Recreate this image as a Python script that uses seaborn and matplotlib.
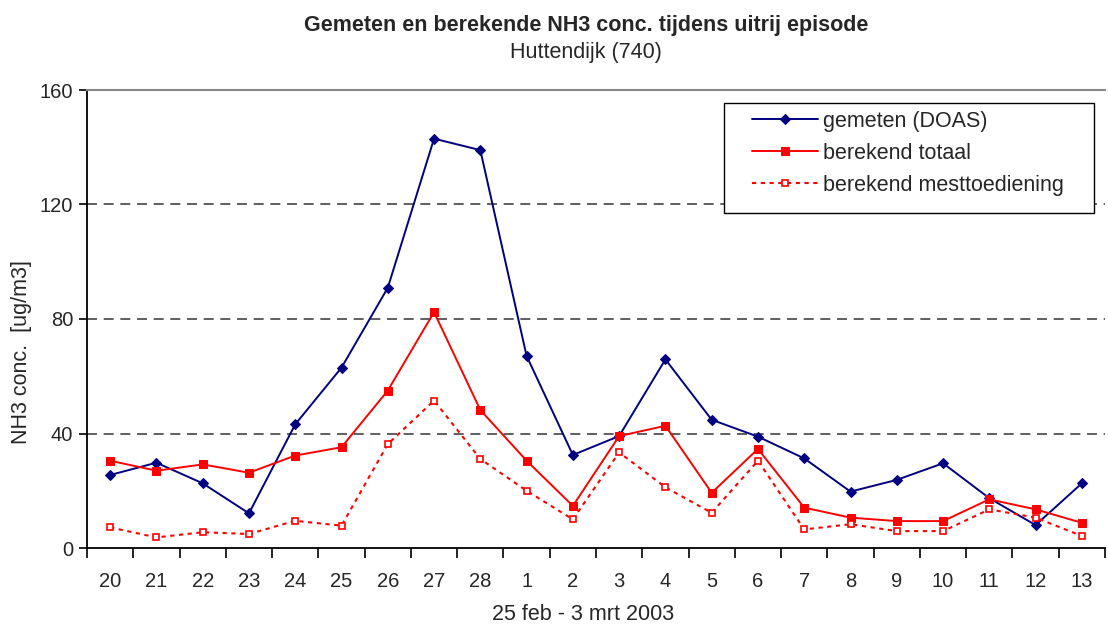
import matplotlib
matplotlib.use("Agg")
import matplotlib.pyplot as plt
from matplotlib.patches import Rectangle
import seaborn as sns
import pandas as pd
import numpy as np

days = ["20", "21", "22", "23", "24", "25", "26", "27", "28", "1", "2",
        "3", "4", "5", "6", "7", "8", "9", "10", "11", "12", "13"]

gemeten = [25.5, 29.8, 22.6, 12.1, 43.2, 63.0, 90.9, 143.0, 139.0, 67.1, 32.5,
           39.1, 65.9, 44.8, 38.9, 31.3, 19.7, 23.8, 29.6, 17.4, 8.0, 22.6]
totaal = [30.5, 27.0, 29.2, 26.3, 32.3, 35.2, 55.0, 82.4, 48.2, 30.5, 14.7,
          39.1, 42.7, 19.3, 34.6, 14.1, 10.6, 9.4, 9.4, 17.0, 13.5, 8.8]
mest = [7.2, 3.7, 5.5, 4.9, 9.5, 7.8, 36.3, 51.5, 31.1, 20.0, 10.0,
        33.4, 21.2, 12.3, 30.5, 6.5, 8.3, 5.9, 5.9, 13.5, 10.6, 4.2]

series_names = ["gemeten (DOAS)", "berekend totaal", "berekend mesttoediening"]

pos = np.arange(len(days))
df = pd.DataFrame({
    "pos": np.tile(pos, 3),
    "conc": gemeten + totaal + mest,
    "serie": np.repeat(series_names, len(days)),
})

sns.set_theme(style="white")
plt.rcParams["font.family"] = ["Liberation Sans", "DejaVu Sans"]

W, H = 1108, 628
fig = plt.figure(figsize=(W / 100, H / 100), dpi=100)
ax = fig.add_axes([87 / W, 1 - 548 / H, 1018 / W, 458 / H])

styles = {
    "gemeten (DOAS)": dict(color="#000080", marker="D", markersize=5,
                           markerfacecolor="#000080", markeredgecolor="#000080",
                           linestyle="-", linewidth=1.4),
    "berekend totaal": dict(color="#ff0000", marker="s", markersize=6,
                            markerfacecolor="#ff0000", markeredgecolor="#ff0000",
                            linestyle="-", linewidth=1.4),
    "berekend mesttoediening": dict(color="#ff0000", marker="s", markersize=5,
                                    markerfacecolor="white", markeredgecolor="#ff0000",
                                    markeredgewidth=1.2,
                                    linestyle=(0, (2, 2.2)), linewidth=1.5),
}

for name in series_names:
    sub = df[df["serie"] == name]
    sns.lineplot(data=sub, x="pos", y="conc", ax=ax, label=name,
                 estimator=None, sort=False, zorder=3, **styles[name])

# y axis
ax.set_ylim(0, 160)
ax.set_yticks([0, 40, 80, 120, 160])
for yv in [40, 80, 120]:
    ax.axhline(yv, color="#444444", linestyle=(0, (6, 4)), linewidth=1.2, zorder=1)

# x axis: ticks between categories, labels centred
ax.set_xlim(-0.5, len(days) - 0.5)
ax.set_xticks(np.arange(-0.5, len(days), 1.0))
ax.set_xticklabels([])
ax.set_xticks(pos, minor=True)
ax.set_xticklabels(days, minor=True)
ax.tick_params(axis="x", which="major", direction="out", length=7, width=1.2,
               color="black", bottom=True)
ax.tick_params(axis="x", which="minor", length=0, pad=17, labelsize=14.5)
ax.tick_params(axis="y", direction="out", length=6, width=1.2, color="black",
               left=True, labelsize=14.5, pad=4)

for side in ["left", "bottom"]:
    ax.spines[side].set_color("black")
    ax.spines[side].set_linewidth(1.3)
ax.spines["right"].set_visible(False)
ax.spines["top"].set_color("#888888")
ax.spines["top"].set_linewidth(1.5)

ax.set_xlabel("25 feb - 3 mrt 2003", fontsize=15.5)
ax.set_ylabel("NH3 conc.  [ug/m3]", fontsize=15.5)
ax.xaxis.set_label_coords(0.487, -0.122)
ax.yaxis.set_label_coords(-0.054, 0.428)

fig.text(0.529, 0.960, "Gemeten en berekende NH3 conc. tijdens uitrij episode",
         ha="center", va="center", fontsize=15.5, fontweight="bold")
fig.text(0.529, 0.917, "Huttendijk (740)", ha="center", va="center", fontsize=15.5)

# legend box with wide side margins
box = Rectangle((724 / W, 1 - 213 / H), 370 / W, 110 / H, transform=fig.transFigure,
                facecolor="white", edgecolor="black", linewidth=1.0,
                clip_on=False, zorder=4)
ax.add_patch(box)
leg = ax.legend(loc="upper left", bbox_to_anchor=(752 / W, 1 - 111 / H),
                bbox_transform=fig.transFigure, frameon=False,
                fontsize=15.5, handlelength=3.07, handletextpad=0.23,
                borderpad=0, labelspacing=0.5, borderaxespad=0)
leg.set_zorder(5)

fig.savefig("out.png", dpi=100, facecolor="white")
